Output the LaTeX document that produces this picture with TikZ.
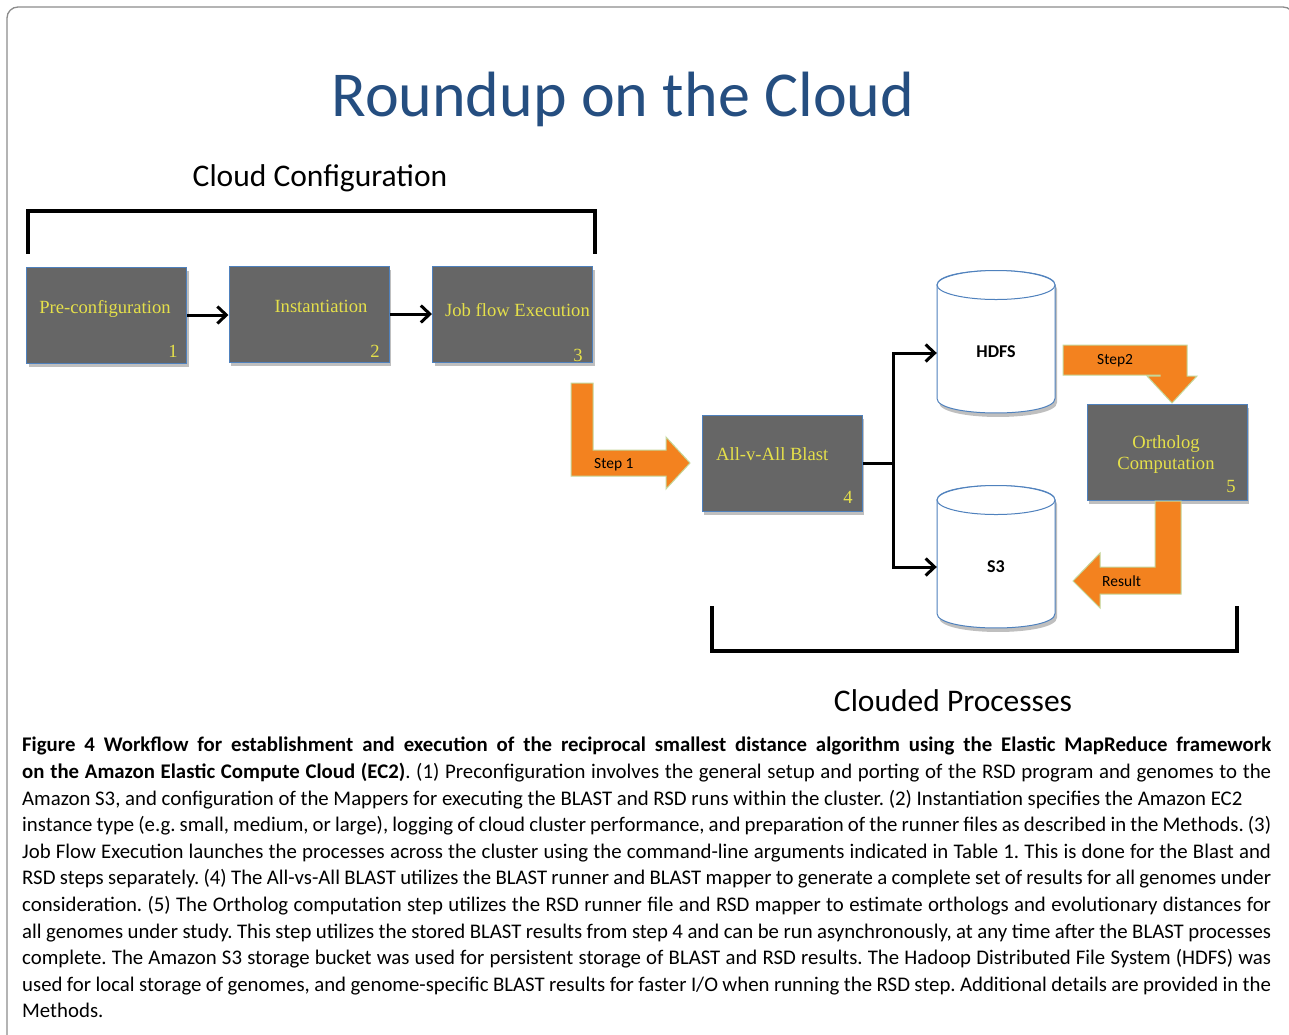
\documentclass[tikz,border=0pt]{standalone}
\usepackage{fontspec}
\setmainfont{Carlito}
\newfontfamily\tnrfont{Liberation Serif}
\usetikzlibrary{arrows.meta,shadows,calc}
\definecolor{titleblue}{HTML}{254E80}
\definecolor{boxgray}{HTML}{666666}
\definecolor{boxblue}{HTML}{4F81BD}
\definecolor{txtyellow}{HTML}{E5E04A}
\definecolor{stepor}{HTML}{F3821F}
\definecolor{stepedge}{HTML}{C4D79B}
\definecolor{framegray}{HTML}{8C8C8C}
\newcommand{\capline}[1]{\hbox to \hsize{#1}}
\begin{document}
\begin{tikzpicture}[x=1pt,y=-1pt,
  procbox/.style={rectangle, fill=boxgray, draw=boxblue, line width=1pt,
    minimum width=160pt, minimum height=96pt, inner sep=0pt,
    drop shadow={shadow xshift=2pt, shadow yshift=-4pt, fill=black, opacity=0.25}},
  boxtxt/.style={font=\tnrfont\fontsize{18.6}{21}\selectfont, text=txtyellow, inner sep=0pt, align=center},
  numtxt/.style={font=\tnrfont\fontsize{18.6}{21}\selectfont, text=txtyellow, inner sep=0pt, anchor=base},
  arr/.style={line width=3pt, -{Straight Barb[length=9pt,width=17pt]}},
  bracket/.style={line width=3.2pt, line cap=rect},
  orangearrow/.style={fill=stepor, draw=stepedge, line width=1pt},
  steplbl/.style={font=\fontsize{15.5}{18}\selectfont, inner sep=0pt, anchor=base west},
  cyl/.style={fill=white, draw=boxblue, line width=1pt},
  cyllbl/.style={font=\bfseries\fontsize{18}{20}\selectfont, inner sep=0pt, anchor=base},
  heading/.style={font=\fontsize{31.5}{36}\selectfont, inner sep=0pt, anchor=base}
]
\useasboundingbox (0,0) rectangle (1289,1034);
\clip (0,0) rectangle (1289,1034);
\fill[white] (0,0) rectangle (1289,1034);
% frame
\draw[framegray, line width=1.3pt, rounded corners=11pt] (7,1050) -- (7,7) -- (1294,7) -- (1294,1050);

% title and headings
\node[font=\fontsize{64}{70}\selectfont, text=titleblue, inner sep=0pt, anchor=base] (title) at (623,116) {Roundup on the Cloud};
\node[heading] (cloudconf) at (320,186) {Cloud Configuration};
\node[heading] (clouded) at (953,711) {Clouded Processes};

% brackets
\draw[bracket] (28,252) -- (28,211) -- (595,211) -- (595,252);
\draw[bracket] (712,608) -- (712,651) -- (1237,651) -- (1237,608);

% boxes
\node[procbox] (b1) at (106.5,315) {};
\node[procbox] (b2) at (309,314) {};
\node[procbox] (b3) at (512.5,314) {};
\node[procbox] (b4) at (782,463) {};
\node[procbox] (b5) at (1167,452) {};

\node[boxtxt, anchor=base] (t1) at (105,313) {Pre-configuration};
\node[boxtxt, anchor=base] (t2) at (321,312) {Instantiation};
\node[boxtxt, anchor=base] (t3) at (517.5,316) {Job flow Execution};
\node[boxtxt, anchor=base west] (t4) at (716,460) {All-v-All Blast};
\node[boxtxt, anchor=base] (t5a) at (1166,448) {Ortholog};
\node[boxtxt, anchor=base] (t5b) at (1166,469) {Computation};
\node[numtxt] (n1) at (173,357) {1};
\node[numtxt] (n2) at (375,357) {2};
\node[numtxt] (n3) at (578,361) {3};
\node[numtxt] (n4) at (848,503) {4};
\node[numtxt] (n5) at (1231,492) {5};

% arrows between config boxes
\draw[arr] (b1.east) -- (b1.east -| b2.west);
\draw[arr] (b2.east) -- (b2.east -| b3.west);

% cylinders
\node[minimum width=118pt, minimum height=143pt, inner sep=0pt] (hdfs) at (996,341.5) {};
\node[minimum width=118pt, minimum height=143pt, inner sep=0pt] (s3) at (996,556.5) {};
\path[cyl, drop shadow={shadow xshift=2pt, shadow yshift=-4pt, fill=black, opacity=0.25}]
  (937,285) -- (937,398.5) .. controls (937,417.8) and (1055,417.8) .. (1055,398.5)
  -- (1055,285) .. controls (1055,265.7) and (937,265.7) .. (937,285) -- cycle;
\draw[cyl] (996,285) ellipse [x radius=59, y radius=14.5];
\path[cyl, drop shadow={shadow xshift=2pt, shadow yshift=-4pt, fill=black, opacity=0.25}]
  (937,500) -- (937,613.5) .. controls (937,632.8) and (1055,632.8) .. (1055,613.5)
  -- (1055,500) .. controls (1055,480.7) and (937,480.7) .. (937,500) -- cycle;
\draw[cyl] (996,500) ellipse [x radius=59, y radius=14.5];
\node[cyllbl] (hdfslbl) at (996,357) {HDFS};
\node[cyllbl] (s3lbl) at (996,572) {S3};

% connectors from All-v-All Blast
\draw[line width=3pt] (b4.east) -- ++(31,0) coordinate (jn);
\draw[arr] (jn) |- ([yshift=-11.5pt]hdfs.west);
\draw[arr] (jn) |- ([yshift=-10.5pt]s3.west);

% orange step arrows
\path[orangearrow] (571,383) -- (593,383) -- (593,450) -- (666,450) -- (666,437)
  -- (690,463) -- (666,489) -- (666,476) -- (571,476) -- cycle;
\node[steplbl] (s1lbl) at (594,468) {Step 1};
\path[orangearrow] (1063,345) -- (1187,345) -- (1187,376) -- (1197,376) -- (1172,403)
  -- (1147,376) -- (1160,376) -- (1160,375) -- (1063,375) -- cycle;
\node[steplbl] (s2lbl) at (1097,364) {Step2};
\path[orangearrow] (1155,501) -- (1181,501) -- (1181,594) -- (1100,594) -- (1100,608)
  -- (1073,581) -- (1100,553) -- (1100,567) -- (1155,567) -- cycle;
\node[steplbl] (reslbl) at (1102,586) {Result};

% caption
\node[anchor=north west, inner sep=0pt] (caption) at (22,737) {\parbox{1249pt}{\fontsize{20.8}{26.6}\selectfont\frenchspacing
\capline{\bfseries Figure 4 Workflow for establishment and execution of the reciprocal smallest distance algorithm using the Elastic MapReduce framework}
\capline{{\bfseries on the Amazon Elastic Compute Cloud (EC2)}. (1) Preconfiguration involves the general setup and porting of the RSD program and genomes to the}
\hbox{Amazon S3, and configuration of the Mappers for executing the BLAST and RSD runs within the cluster. (2) Instantiation specifies the Amazon EC2}
\capline{instance type (e.g. small, medium, or large), logging of cloud cluster performance, and preparation of the runner files as described in the Methods. (3)}
\capline{Job Flow Execution launches the processes across the cluster using the command-line arguments indicated in Table 1. This is done for the Blast and}
\capline{RSD steps separately. (4) The All-vs-All BLAST utilizes the BLAST runner and BLAST mapper to generate a complete set of results for all genomes under}
\capline{consideration. (5) The Ortholog computation step utilizes the RSD runner file and RSD mapper to estimate orthologs and evolutionary distances for}
\capline{all genomes under study. This step utilizes the stored BLAST results from step 4 and can be run asynchronously, at any time after the BLAST processes}
\capline{complete. The Amazon S3 storage bucket was used for persistent storage of BLAST and RSD results. The Hadoop Distributed File System (HDFS) was}
\capline{used for local storage of genomes, and genome-specific BLAST results for faster I/O when running the RSD step. Additional details are provided in the}
\hbox{Methods.}}};
\end{tikzpicture}
\end{document}
